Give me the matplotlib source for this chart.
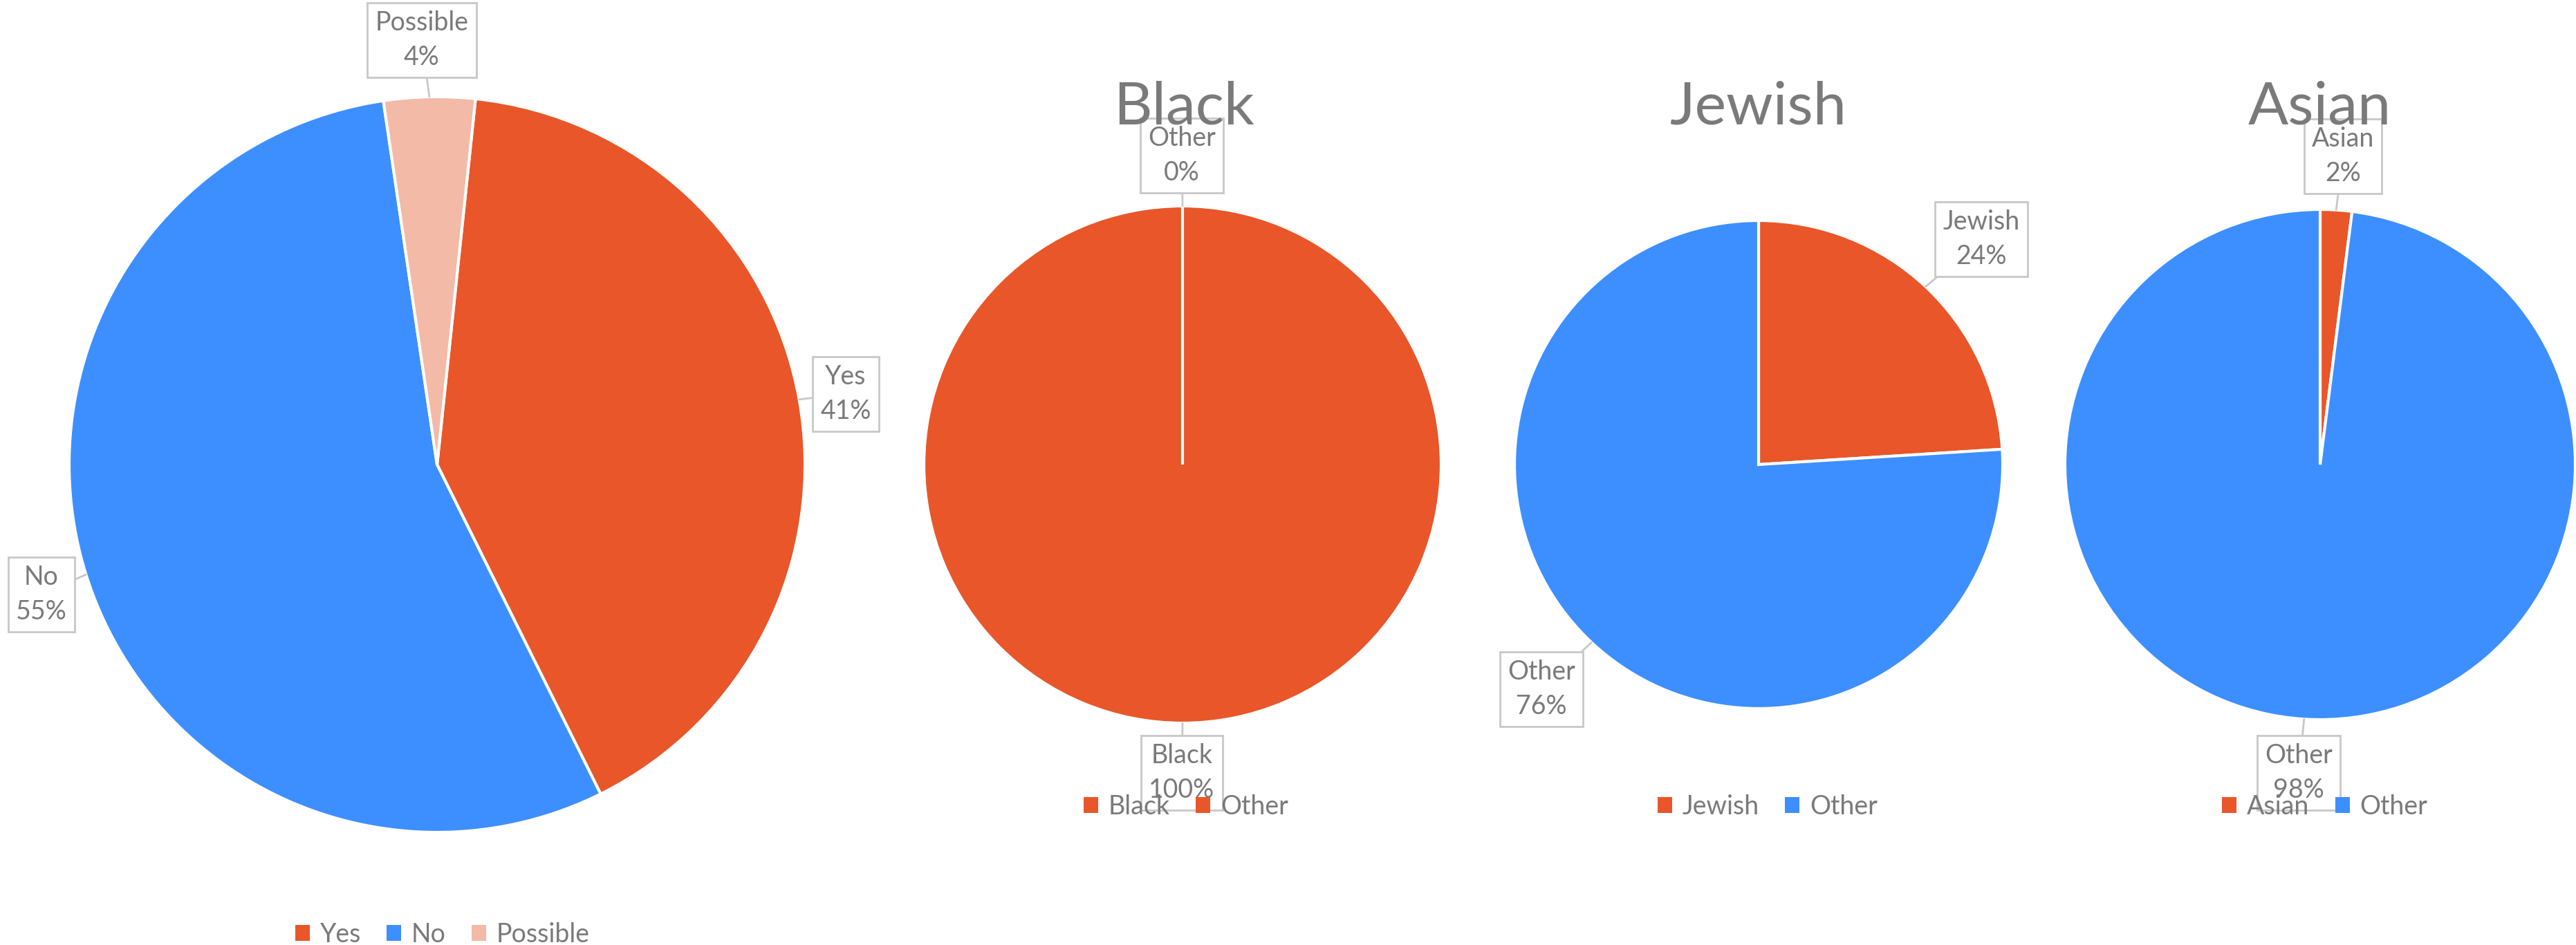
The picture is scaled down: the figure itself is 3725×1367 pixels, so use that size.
import numpy as np
import matplotlib.pyplot as plt
from matplotlib.patches import Patch

# ---- data ----
main_labels = ["Yes", "No", "Possible"]
main_values = [41, 55, 4]

black_labels = ["Black", "Other"]
black_values = [100, 0]

jewish_labels = ["Jewish", "Other"]
jewish_values = [24, 76]

asian_labels = ["Asian", "Other"]
asian_values = [2, 98]

titles = ["", "Black", "Jewish", "Asian"]

# ---- style ----
ORANGE = "#E8562A"
BLUE = "#3D8FFF"
PEACH = "#F3BAA7"
TEXT = "#7A7A7A"
BOX = "#C8C8C8"

plt.rcParams["font.family"] = ["Lato", "DejaVu Sans"]

W, H = 3725, 1367
fig = plt.figure(figsize=(W / 100, H / 100), dpi=100)
ax = fig.add_axes([0, 0, 1, 1])

# layout in pixel coords (y down): centre, radius, start offset, colours
pies = [
    dict(values=main_values, labels=main_labels, c=(632, 672), r=532, start=6,
         colors=[ORANGE, BLUE, PEACH],
         boxes=[(1223, 570), (60, 860), (610, 58)],
         legend=(640, 1352)),
    dict(values=black_values, labels=black_labels, c=(1710, 672), r=374, start=0,
         colors=[ORANGE, ORANGE],
         boxes=[(1709, 1118), (1709, 225)],
         legend=(1715, 1167)),
    dict(values=jewish_values, labels=jewish_labels, c=(2543, 672), r=353, start=0,
         colors=[ORANGE, BLUE],
         boxes=[(2865, 346), (2229, 997)],
         legend=(2556, 1167)),
    dict(values=asian_values, labels=asian_labels, c=(3355, 672), r=369, start=0,
         colors=[ORANGE, BLUE],
         boxes=[(3388, 226), (3324, 1118)],
         legend=(3362, 1167)),
]
title_x = [0, 1712, 2543, 3354]

for i, p in enumerate(pies):
    # y axis is inverted, so counterclock=True draws clockwise on screen
    wedges, _ = ax.pie(p["values"], colors=p["colors"], center=p["c"], radius=p["r"],
                       startangle=270 + p["start"], counterclock=True, frame=True,
                       wedgeprops=dict(edgecolor="white", linewidth=3))
    total = sum(p["values"])
    for w, lab, val, box in zip(wedges, p["labels"], p["values"], p["boxes"]):
        mid = np.deg2rad((w.theta1 + w.theta2) / 2)
        tip = (p["c"][0] + p["r"] * np.cos(mid), p["c"][1] + p["r"] * np.sin(mid))
        ax.annotate(f"{lab}\n{round(100 * val / total)}%", xy=tip, xytext=box,
                    ha="center", va="center", fontsize=27, color=TEXT,
                    linespacing=1.45, zorder=5,
                    bbox=dict(boxstyle="square,pad=0.3", fc="white", ec=BOX, lw=2),
                    arrowprops=dict(arrowstyle="-", color=BOX, lw=2,
                                    shrinkA=0, shrinkB=0))
    if titles[i]:
        ax.text(title_x[i], 180, titles[i], ha="center", va="baseline",
                fontsize=62, color=TEXT, zorder=6)
    handles = [Patch(facecolor=col, edgecolor="none") for col in p["colors"]]
    fig.legend(handles, p["labels"], loc="center", bbox_to_anchor=p["legend"],
               bbox_transform=ax.transData, ncol=len(p["labels"]), frameon=False,
               fontsize=27, labelcolor=TEXT, handlelength=0.55, handleheight=0.55,
               handletextpad=0.4, columnspacing=1.0)

ax.set_xlim(0, W)
ax.set_ylim(H, 0)
ax.set_aspect("equal")
ax.axis("off")

fig.savefig("out.png", dpi=100, facecolor="white")
